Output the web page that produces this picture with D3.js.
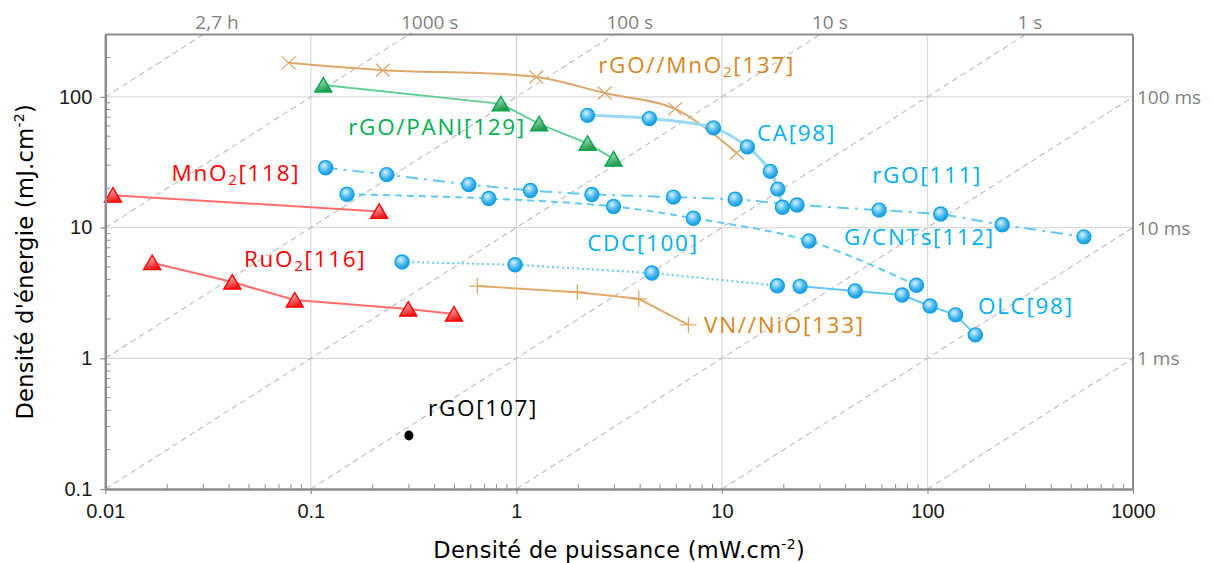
<!DOCTYPE html>
<html><head><meta charset="utf-8">
<script src="https://cdn.jsdelivr.net/npm/d3@7"></script>
<style>body{margin:0;background:#fff}svg{display:block}</style>
</head><body>
<svg id="c" width="1213" height="563"></svg>
<script>
// ---------- data (P: mW.cm-2, E: mJ.cm-2) ----------
const rgoMnO2P = [0.078, 0.224, 1.25, 2.69, 5.92, 11.8];
const rgoMnO2E = [182, 160, 142, 107, 80.9, 37.2];
const rgoPaniP = [0.115, 0.84, 1.29, 2.22, 2.97];
const rgoPaniE = [123, 88.4, 62.1, 44.1, 33.5];
const caP = [2.22, 4.44, 9.1, 13.3, 17.2, 18.7, 19.7];
const caE = [72.2, 68.2, 57.9, 41.4, 26.9, 19.7, 14.3];
const rgo111P = [0.118, 0.234, 0.587, 1.17, 2.33, 5.81, 11.6, 23.2, 58.2, 116, 231, 577];
const rgo111E = [28.7, 25.4, 21.3, 19.2, 17.9, 17.1, 16.5, 14.9, 13.6, 12.7, 10.5, 8.49];
const gcntP = [0.15, 0.734, 2.97, 7.26, 26.5, 88.4];
const gcntE = [18.0, 16.7, 14.5, 11.8, 7.9, 3.62];
const cdcP = [0.278, 0.986, 4.56, 18.6];
const cdcE = [5.46, 5.2, 4.49, 3.59];
const olcP = [24.0, 44.5, 75.3, 103, 137, 171];
const olcE = [3.55, 3.27, 3.05, 2.51, 2.15, 1.51];
const vnNioP = [0.646, 1.98, 3.94, 6.87];
const vnNioE = [3.57, 3.2, 2.85, 1.8];
const mno2P = [0.0109, 0.215];
const mno2E = [17.7, 13.3];
const ruo2P = [0.0169, 0.0415, 0.0835, 0.298, 0.497];
const ruo2E = [5.39, 3.83, 2.79, 2.38, 2.18];
const rgo107P = [0.3];
const rgo107E = [0.257];

const xTicks = [0.01, 0.1, 1, 10, 100, 1000];
const xTickLabels = ["0.01", "0.1", "1", "10", "100", "1000"];
const yTicks = [0.1, 1, 10, 100];
const yTickLabels = ["0.1", "1", "10", "100"];
const isoTimes = [1e4, 1e3, 100, 10, 1, 0.1, 0.01, 0.001];
const topTimes = [1e4, 1e3, 100, 10, 1];
const topTimeLabels = ["2,7 h", "1000 s", "100 s", "10 s", "1 s"];
const rightTimes = [0.1, 0.01, 0.001];
const rightTimeLabels = ["100 ms", "10 ms", "1 ms"];

// ---------- layout ----------
const L = 105.3, R = 1133, T = 34.5, B = 489;
const xMin = 0.01, xMax = 1000, yMin = 0.1, yMax = 300;
const x = d3.scaleLog().domain([xMin, xMax]).range([L, R]);
const y = d3.scaleLog().domain([yMin, yMax]).range([B, T]);

const svg = d3.select("#c");
const defs = svg.append("defs");
defs.append("clipPath").attr("id", "clip").append("rect")
  .attr("x", L).attr("y", T - 3).attr("width", R - L + 3).attr("height", B - T + 3);

const rg = defs.append("radialGradient").attr("id", "gBlue").attr("cx", "40%").attr("cy", "35%").attr("r", "65%");
rg.append("stop").attr("offset", "0%").attr("stop-color", "#d8f1fd");
rg.append("stop").attr("offset", "55%").attr("stop-color", "#4fbdf0");
rg.append("stop").attr("offset", "100%").attr("stop-color", "#1795dc");
const rr = defs.append("linearGradient").attr("id", "gRed").attr("x1", "0").attr("y1", "0").attr("x2", "0.4").attr("y2", "1");
rr.append("stop").attr("offset", "0%").attr("stop-color", "#ffe0e0");
rr.append("stop").attr("offset", "100%").attr("stop-color", "#f01818");
const gg = defs.append("linearGradient").attr("id", "gGreen").attr("x1", "0").attr("y1", "0").attr("x2", "0.4").attr("y2", "1");
gg.append("stop").attr("offset", "0%").attr("stop-color", "#d2f0da");
gg.append("stop").attr("offset", "100%").attr("stop-color", "#1e9a4c");

// ---------- grid ----------
const grid = svg.append("g");
grid.selectAll(".gx").data(xTicks.slice(1, -1)).join("line")
  .attr("x1", d => x(d)).attr("x2", d => x(d)).attr("y1", T).attr("y2", B)
  .attr("stroke", "#d9d9d9").attr("stroke-width", 1.2);
grid.selectAll(".gy").data(yTicks.slice(1)).join("line")
  .attr("x1", L).attr("x2", R).attr("y1", d => y(d)).attr("y2", d => y(d))
  .attr("stroke", "#d9d9d9").attr("stroke-width", 1.2);

// ---------- iso-time diagonals ----------
const iso = svg.append("g").attr("clip-path", "url(#clip)");
isoTimes.forEach(t => {
  const p0 = Math.max(xMin, yMin / t), p1 = Math.min(xMax * 1.02, yMax * 1.03 / t);
  iso.append("line")
    .attr("x1", x(p0)).attr("y1", y(p0 * t)).attr("x2", x(p1)).attr("y2", y(p1 * t))
    .attr("stroke", "#bdbdbd").attr("stroke-width", 1.1).attr("stroke-dasharray", "6,4");
});
const timeFont = "'Open Sans', sans-serif";
topTimes.forEach((t, i) => {
  svg.append("text").attr("x", x(yMax / t) - 8).attr("y", 29)
    .attr("font-family", timeFont).attr("font-size", 19).attr("fill", "#7f7f7f")
    .text(topTimeLabels[i]);
});
rightTimes.forEach((t, i) => {
  svg.append("text").attr("x", R + 4).attr("y", y(xMax * t) + 7)
    .attr("font-family", timeFont).attr("font-size", 19).attr("fill", "#7f7f7f")
    .text(rightTimeLabels[i]);
});

// ---------- series ----------
const zip = (P, E) => P.map((p, i) => [p, E[i]]);
const series = [
  {P: rgoMnO2P, E: rgoMnO2E, color: "#dba86a", w: 2, dash: null, curve: d3.curveCatmullRom, marker: "x", mcolor: "#dca46a"},
  {P: rgoPaniP, E: rgoPaniE, color: "#62cf92", w: 2, dash: null, curve: d3.curveLinear, marker: "triG"},
  {P: caP, E: caE, color: "#9ad9f3", w: 3, dash: null, curve: d3.curveCatmullRom, marker: "circ"},
  {P: rgo111P, E: rgo111E, color: "#62c9f1", w: 2, dash: "12,6,3,6", curve: d3.curveLinear, marker: "circ"},
  {P: gcntP, E: gcntE, color: "#62c9f1", w: 2, dash: "7,5", curve: d3.curveCatmullRom, marker: "circ"},
  {P: cdcP, E: cdcE, color: "#62c9f1", w: 2, dash: "2,3", curve: d3.curveLinear, marker: "circ"},
  {P: olcP, E: olcE, color: "#62c9f1", w: 2, dash: null, curve: d3.curveLinear, marker: "circ"},
  {P: vnNioP, E: vnNioE, color: "#e0aa68", w: 2, dash: null, curve: d3.curveLinear, marker: "plus", mcolor: "#e0a660"},
  {P: mno2P, E: mno2E, color: "#ff6d6d", w: 2, dash: null, curve: d3.curveLinear, marker: "triR"},
  {P: ruo2P, E: ruo2E, color: "#ff6d6d", w: 2, dash: null, curve: d3.curveLinear, marker: "triR"},
  {P: rgo107P, E: rgo107E, color: "#000", w: 0, dash: null, curve: d3.curveLinear, marker: "dot"}
];

const lines = svg.append("g");
const marks = svg.append("g");
series.forEach(s => {
  const pts = zip(s.P, s.E);
  if (pts.length > 1 && s.w > 0) {
    lines.append("path")
      .attr("d", d3.line().x(d => x(d[0])).y(d => y(d[1])).curve(s.curve)(pts))
      .attr("fill", "none").attr("stroke", s.color).attr("stroke-width", s.w)
      .attr("stroke-dasharray", s.dash);
  }
  pts.forEach(d => {
    const g = marks.append("g").attr("transform", `translate(${x(d[0])},${y(d[1])})`);
    if (s.marker === "circ") {
      g.append("circle").attr("r", 7).attr("fill", "url(#gBlue)").attr("stroke", "#12a4e8").attr("stroke-width", 1.4);
    } else if (s.marker === "triR") {
      g.append("path").attr("d", "M0,-7.5L8.5,7L-8.5,7Z").attr("fill", "url(#gRed)").attr("stroke", "#ff0000").attr("stroke-width", 1.4);
    } else if (s.marker === "triG") {
      g.append("path").attr("d", "M0,-7.5L8.5,7L-8.5,7Z").attr("fill", "url(#gGreen)").attr("stroke", "#00a650").attr("stroke-width", 1.4);
    } else if (s.marker === "x") {
      g.append("path").attr("d", "M-7,-6.5L7,6.5M-7,6.5L7,-6.5").attr("stroke", s.mcolor).attr("stroke-width", 1.3).attr("fill", "none");
    } else if (s.marker === "plus") {
      g.append("path").attr("d", "M-8,0L8,0M0,-8L0,8").attr("stroke", s.mcolor).attr("stroke-width", 1.3).attr("fill", "none");
    } else if (s.marker === "dot") {
      g.append("ellipse").attr("rx", 4.5).attr("ry", 5).attr("fill", "#000");
    }
  });
});

// ---------- series labels ----------
const labFont = "'Open Sans', sans-serif";
const seriesLabels = [
  {P: 2.50, E: 143, color: "#d9861f", parts: [["rGO//MnO"], ["2", "sub"], ["[137]"]]},
  {P: 0.152, E: 47.7, color: "#00b050", parts: [["rGO/PANI[129]"]]},
  {P: 14.8, E: 43, color: "#00b0f0", parts: [["CA[98]"]]},
  {P: 53.8, E: 20.3, color: "#00b0f0", parts: [["rGO[111]"]]},
  {P: 39.3, E: 6.87, color: "#00b0f0", parts: [["G/CNTs[112]"]]},
  {P: 2.21, E: 6.18, color: "#00b0f0", parts: [["CDC[100]"]]},
  {P: 176, E: 2.03, color: "#00b0f0", parts: [["OLC[98]"]]},
  {P: 8.19, E: 1.46, color: "#d9861f", parts: [["VN//NiO[133]"]]},
  {P: 0.021, E: 21.3, color: "#ff0000", parts: [["MnO"], ["2", "sub"], ["[118]"]]},
  {P: 0.0473, E: 4.66, color: "#ff0000", parts: [["RuO"], ["2", "sub"], ["[116]"]]},
  {P: 0.372, E: 0.335, color: "#000000", parts: [["rGO[107]"]]}
];
seriesLabels.forEach(l => {
  const t = svg.append("text").attr("x", x(l.P)).attr("y", y(l.E))
    .attr("font-family", labFont).attr("font-size", 22.5).attr("letter-spacing", 1.7)
    .attr("fill", l.color);
  l.parts.forEach(p => {
    if (p[1] === "sub") t.append("tspan").attr("font-size", 15).attr("dy", 4).text(p[0]);
    else t.append("tspan").attr("dy", t.selectAll("tspan").size() > 0 ? -4 : 0).text(p[0]);
  });
});

// ---------- axes ----------
const axColor = "#8c8c8c";
const numFont = "'Liberation Sans', Arial, sans-serif";
const xAxis = svg.append("g").attr("transform", `translate(0,${B})`)
  .call(d3.axisBottom(x).tickValues(xTicks).tickFormat((d, i) => xTickLabels[i]).tickSize(5).tickSizeOuter(0).tickPadding(10));
const yAxis = svg.append("g").attr("transform", `translate(${L},0)`)
  .call(d3.axisLeft(y).tickValues(yTicks).tickFormat((d, i) => yTickLabels[i]).tickSize(5).tickSizeOuter(0).tickPadding(8));
[xAxis, yAxis].forEach(a => {
  a.select(".domain").attr("stroke", axColor).attr("stroke-width", 2.5);
  a.selectAll(".tick line").attr("stroke", axColor).attr("stroke-width", 1.2);
  a.selectAll("text").attr("font-family", numFont).attr("font-size", 20).attr("fill", "#1a1a1a");
});
// minor ticks (inside)
const minorX = [], minorY = [];
for (let e = -2; e < 3; e++) for (let k = 2; k < 10; k++) minorX.push(k * Math.pow(10, e));
for (let e = -1; e < 3; e++) for (let k = 2; k < 10; k++) { const v = k * Math.pow(10, e); if (v <= yMax) minorY.push(v); }
svg.append("g").selectAll("line").data(minorX).join("line")
  .attr("x1", d => x(d)).attr("x2", d => x(d)).attr("y1", B).attr("y2", B - 5)
  .attr("stroke", axColor).attr("stroke-width", 1);
svg.append("g").selectAll("line").data(minorY).join("line")
  .attr("x1", L).attr("x2", L + 5).attr("y1", d => y(d)).attr("y2", d => y(d))
  .attr("stroke", axColor).attr("stroke-width", 1);
// top & right borders
svg.append("line").attr("x1", L).attr("x2", R).attr("y1", T).attr("y2", T).attr("stroke", axColor).attr("stroke-width", 2);
svg.append("line").attr("x1", R).attr("x2", R).attr("y1", T).attr("y2", B).attr("stroke", axColor).attr("stroke-width", 2);

// ---------- axis titles ----------
const titleFont = "'DejaVu Sans', sans-serif";
const xt = svg.append("text").attr("x", (L + R) / 2).attr("y", 558).attr("text-anchor", "middle")
  .attr("font-family", titleFont).attr("font-size", 22.5).attr("letter-spacing", 0.3).attr("fill", "#000");
xt.append("tspan").text("Densité de puissance (mW.cm");
xt.append("tspan").attr("font-size", 14).attr("dy", -9).text("-2");
xt.append("tspan").attr("dy", 9).text(")");
const yt = svg.append("text").attr("transform", `translate(33,${(T + B) / 2}) rotate(-90)`).attr("text-anchor", "middle")
  .attr("font-family", titleFont).attr("font-size", 22.5).attr("letter-spacing", 0.3).attr("fill", "#000");
yt.append("tspan").text("Densité d'énergie (mJ.cm");
yt.append("tspan").attr("font-size", 14).attr("dy", -9).text("-2");
yt.append("tspan").attr("dy", 9).text(")");
</script>
</body></html>
